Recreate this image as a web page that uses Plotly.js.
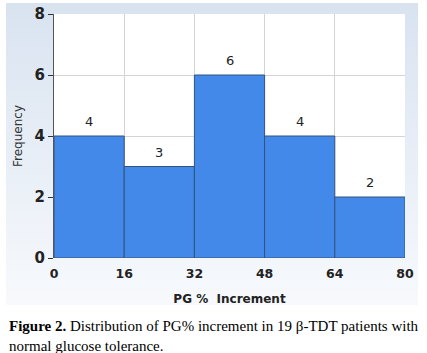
<!DOCTYPE html>
<html>
<head>
<meta charset="utf-8">
<script src="https://cdn.plot.ly/plotly-3.0.1.min.js"></script>
<style>
  html, body { margin: 0; padding: 0; background: #ffffff; }
  #wrap { position: relative; width: 427px; height: 353px; overflow: hidden; }
  #panel { position: absolute; left: 6px; top: 3px; width: 412px; height: 302px;
           background: linear-gradient(to bottom, #d9e3f0 0%, #e9eff7 55%, #f7f9fc 100%); }
  #chart { position: absolute; left: 0; top: 0; width: 427px; height: 353px; }
</style>
</head>
<body>
<div id="wrap">
  <div id="panel"></div>
  <div id="chart"></div>
</div>
<script>
// Data
const binStarts = [0, 16, 32, 48, 64];
const binWidth = 16;
const counts = [4, 3, 6, 4, 2];
const xTicks = [0, 16, 32, 48, 64, 80];
const yTicks = [0, 2, 4, 6, 8];
const xTitle = "PG %  Increment";
const yTitle = "Frequency";
const captionBold = "Figure 2.";
const captionLine1 = " Distribution of PG% increment in 19 β-TDT patients with";
const captionLine2 = "normal glucose tolerance.";

const centers = binStarts.map(s => s + binWidth / 2);

const trace = {
  type: 'bar',
  x: centers,
  y: counts,
  width: binStarts.map(() => binWidth),
  marker: { color: '#4289ea', line: { color: '#34527e', width: 1 } },
  hoverinfo: 'skip'
};

const annotations = centers.map((c, i) => ({
  x: c, y: counts[i], xref: 'x', yref: 'y',
  text: String(counts[i]), showarrow: false,
  yanchor: 'bottom', yshift: 5,
  font: { family: 'DejaVu Sans, Verdana, sans-serif', size: 13, color: '#222' }
}));

annotations.push({
  xref: 'paper', yref: 'paper', x: -0.135, y: -0.238, xanchor: 'left', yanchor: 'top',
  align: 'left', showarrow: false,
  text: '<b>' + captionBold + '</b>' + captionLine1 + '<br>' + captionLine2,
  font: { family: 'Liberation Serif, Times New Roman, serif', size: 15, color: '#000' }
});

const layout = {
  width: 427, height: 353,
  margin: { l: 54, r: 22, t: 14, b: 95 },
  paper_bgcolor: 'rgba(0,0,0,0)',
  plot_bgcolor: '#ffffff',
  showlegend: false,
  bargap: 0,
  xaxis: {
    range: [0, 80], tickvals: xTicks, ticktext: xTicks.map(String),
    showgrid: true, gridcolor: '#d4d4d4', gridwidth: 1,
    zeroline: false, showline: false,
    ticks: 'outside', ticklen: 4, tickcolor: 'rgba(0,0,0,0)',
    tickfont: { family: 'DejaVu Sans, Verdana, sans-serif', size: 12.5, color: '#222', weight: 'bold' },
    title: { text: '<b>' + xTitle + '</b>', standoff: 14,
             font: { family: 'DejaVu Sans, Verdana, sans-serif', size: 12, color: '#222' } },
    fixedrange: true
  },
  yaxis: {
    range: [0, 8], tickvals: yTicks, ticktext: yTicks.map(String),
    showgrid: true, gridcolor: '#d4d4d4', gridwidth: 1,
    zeroline: false, showline: true, linecolor: '#555', linewidth: 1,
    ticks: 'outside', ticklen: 5, tickcolor: '#333',
    tickfont: { family: 'DejaVu Sans, Verdana, sans-serif', size: 15, color: '#222', weight: 'bold' },
    title: { text: yTitle, standoff: 9,
             font: { family: 'DejaVu Sans, Verdana, sans-serif', size: 12, color: '#333' } },
    fixedrange: true
  },
  annotations: annotations
};

Plotly.newPlot('chart', [trace], layout, { staticPlot: true, displayModeBar: false });
</script>
</body>
</html>
